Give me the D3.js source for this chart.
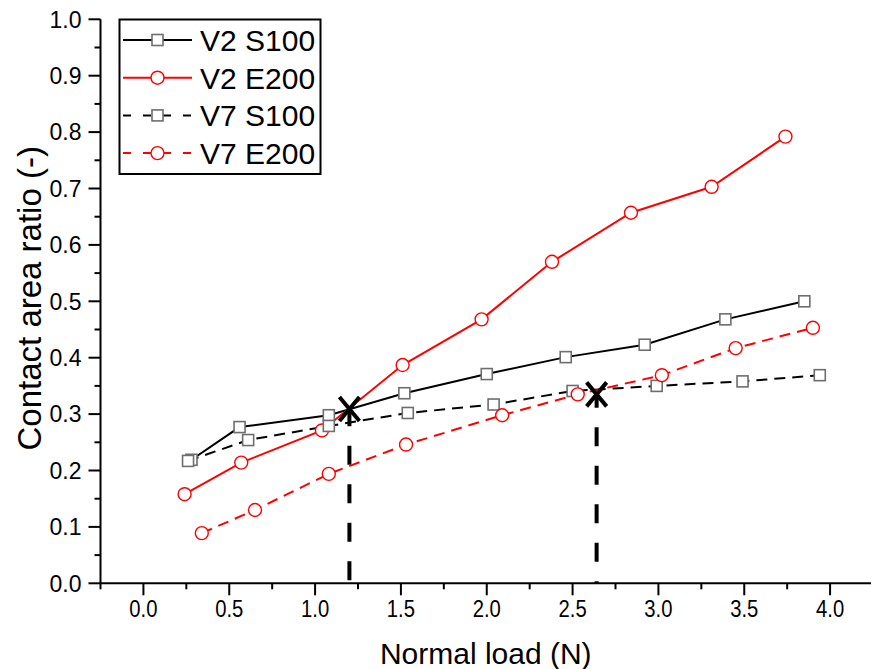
<!DOCTYPE html>
<html>
<head>
    <meta charset="utf-8">
    <title>Contact area ratio</title>
    <script src="https://d3js.org/d3.v7.min.js"></script>
    <style>
        body { margin: 0; background: #fff; }
        text { font-family: "Liberation Sans", Arial, sans-serif; fill: #000; }
    </style>
</head>
<body>
    <script>
        // data
        const v2S100X = [0.28, 0.56, 1.08, 1.52, 2.00, 2.46, 2.92, 3.39, 3.85];
        const v2S100Y = [0.219, 0.277, 0.298, 0.337, 0.371, 0.401, 0.423, 0.468, 0.500];
        const v2E200X = [0.24, 0.57, 1.04, 1.51, 1.97, 2.38, 2.84, 3.31, 3.74];
        const v2E200Y = [0.158, 0.214, 0.271, 0.387, 0.468, 0.570, 0.657, 0.703, 0.792];
        const v7S100X = [0.26, 0.61, 1.08, 1.54, 2.04, 2.50, 2.99, 3.49, 3.94];
        const v7S100Y = [0.217, 0.254, 0.279, 0.302, 0.317, 0.341, 0.350, 0.358, 0.369];
        const v7E200X = [0.34, 0.65, 1.08, 1.53, 2.09, 2.53, 3.02, 3.45, 3.90];
        const v7E200Y = [0.089, 0.130, 0.194, 0.246, 0.298, 0.335, 0.369, 0.417, 0.453];
        const crossX = [1.20, 2.64];
        const crossY = [0.309, 0.335];
        const xTicks = [0, 0.5, 1, 1.5, 2, 2.5, 3, 3.5, 4];
        const yTicks = [0, 0.1, 0.2, 0.3, 0.4, 0.5, 0.6, 0.7, 0.8, 0.9, 1.0];
        const seriesNames = ['V2 S100', 'V2 E200', 'V7 S100', 'V7 E200'];

        const series = [
            { name: seriesNames[0], xs: v2S100X, ys: v2S100Y, color: '#000', shape: 'square', dash: null },
            { name: seriesNames[1], xs: v2E200X, ys: v2E200Y, color: '#ff0000', shape: 'circle', dash: null },
            { name: seriesNames[2], xs: v7S100X, ys: v7S100Y, color: '#000', shape: 'square', dash: '11,7' },
            { name: seriesNames[3], xs: v7E200X, ys: v7E200Y, color: '#ff0000', shape: 'circle', dash: '11,7' }
        ];

        const width = 871, height = 669;
        const svg = d3.select('body').append('svg')
            .attr('width', width)
            .attr('height', height);

        const x = d3.scaleLinear().domain([-0.25, 4.25]).range([100.5, 873]);
        const y = d3.scaleLinear().domain([0, 1]).range([583.3, 19.3]);

        // axes
        const xMinor = d3.range(-0.25, 4.3, 0.25).filter(v => Math.abs(v * 2 - Math.round(v * 2)) > 0.01);
        const yMinor = d3.range(0.05, 1, 0.1);

        const xAxis = svg.append('g').attr('transform', `translate(0,${y(0)})`);
        xAxis.append('line').attr('x1', x(-0.25)).attr('x2', width).attr('stroke', '#000').attr('stroke-width', 2);
        xAxis.selectAll('.maj').data(xTicks).enter().append('line')
            .attr('x1', d => x(d)).attr('x2', d => x(d)).attr('y1', 0).attr('y2', 12)
            .attr('stroke', '#000').attr('stroke-width', 2);
        xAxis.selectAll('.min').data(xMinor).enter().append('line')
            .attr('x1', d => x(d)).attr('x2', d => x(d)).attr('y1', 0).attr('y2', 6)
            .attr('stroke', '#000').attr('stroke-width', 2);
        xAxis.selectAll('text').data(xTicks).enter().append('text')
            .attr('transform', d => `translate(${x(d)},34) scale(0.88,1)`)
            .attr('text-anchor', 'middle')
            .attr('font-size', 23)
            .text(d => d.toFixed(1));

        const yAxis = svg.append('g').attr('transform', `translate(${x(-0.25)},0)`);
        yAxis.append('line').attr('y1', y(0)).attr('y2', y(1)).attr('stroke', '#000').attr('stroke-width', 2);
        yAxis.selectAll('.maj').data(yTicks).enter().append('line')
            .attr('y1', d => y(d)).attr('y2', d => y(d)).attr('x1', 0).attr('x2', -12)
            .attr('stroke', '#000').attr('stroke-width', 2);
        yAxis.selectAll('.min').data(yMinor).enter().append('line')
            .attr('y1', d => y(d)).attr('y2', d => y(d)).attr('x1', 0).attr('x2', -6)
            .attr('stroke', '#000').attr('stroke-width', 2);
        yAxis.selectAll('text').data(yTicks).enter().append('text')
            .attr('x', -19).attr('y', d => y(d))
            .attr('dy', '0.36em')
            .attr('text-anchor', 'end')
            .attr('font-size', 23)
            .text(d => d.toFixed(1));

        svg.append('text')
            .attr('x', (x(-0.25) + width) / 2)
            .attr('y', 664)
            .attr('text-anchor', 'middle')
            .attr('font-size', 30)
            .text('Normal load (N)');

        svg.append('text')
            .attr('transform', `translate(41,${y(0.5) - 3}) rotate(-90)`)
            .attr('text-anchor', 'middle')
            .attr('font-size', 33)
            .text('Contact area ratio (-)');

        // vertical dashed guides + cross markers
        const guides = svg.append('g');
        crossX.forEach((cx, i) => {
            guides.append('line')
                .attr('x1', x(cx)).attr('x2', x(cx))
                .attr('y1', y(0)).attr('y2', y(crossY[i]))
                .attr('stroke', '#000').attr('stroke-width', 4)
                .attr('stroke-dasharray', '19,19.5')
                .attr('stroke-dashoffset', i === 0 ? 35.5 : 17);
        });

        const line = d3.line();

        function drawMarker(g, shape, color, px, py) {
            if (shape === 'square') {
                g.append('rect')
                    .attr('x', px - 5.5).attr('y', py - 5.5)
                    .attr('width', 11).attr('height', 11)
                    .attr('fill', '#fff').attr('stroke', '#6e6e6e').attr('stroke-width', 1.6);
            } else {
                g.append('circle')
                    .attr('cx', px).attr('cy', py).attr('r', 6.5)
                    .attr('fill', '#fff').attr('stroke', color).attr('stroke-width', 1.4);
            }
        }

        const plot = svg.append('g');
        series.forEach(s => {
            const pts = s.xs.map((v, i) => [x(v), y(s.ys[i])]);
            plot.append('path')
                .attr('d', line(pts))
                .attr('fill', 'none')
                .attr('stroke', s.color)
                .attr('stroke-width', 2)
                .attr('stroke-dasharray', s.dash);
        });
        series.forEach(s => {
            const g = plot.append('g');
            s.xs.forEach((v, i) => drawMarker(g, s.shape, s.color, x(v), y(s.ys[i])));
        });

        crossX.forEach((cx, i) => {
            const px = x(cx), py = y(crossY[i]);
            svg.append('path')
                .attr('d', `M${px - 10},${py - 12}L${px + 10},${py + 12}M${px + 10},${py - 12}L${px - 10},${py + 12}`)
                .attr('stroke', '#000').attr('stroke-width', 4).attr('fill', 'none');
        });

        // legend
        const legend = svg.append('g');
        legend.append('rect')
            .attr('x', 119.5).attr('y', 19.5).attr('width', 201).attr('height', 154.5)
            .attr('fill', '#fff').attr('stroke', '#000').attr('stroke-width', 2);
        series.forEach((s, i) => {
            const ly = 40 + i * 37.7;
            legend.append('line')
                .attr('x1', 123).attr('x2', 192).attr('y1', ly).attr('y2', ly)
                .attr('stroke', s.color).attr('stroke-width', 2)
                .attr('stroke-dasharray', s.dash ? '8,12' : null);
            drawMarker(legend, s.shape, s.color, 157.5, ly);
            legend.append('text')
                .attr('x', 200).attr('y', ly)
                .attr('dy', '0.36em')
                .attr('font-size', 30)
                .text(s.name);
        });
    </script>
</body>
</html>
